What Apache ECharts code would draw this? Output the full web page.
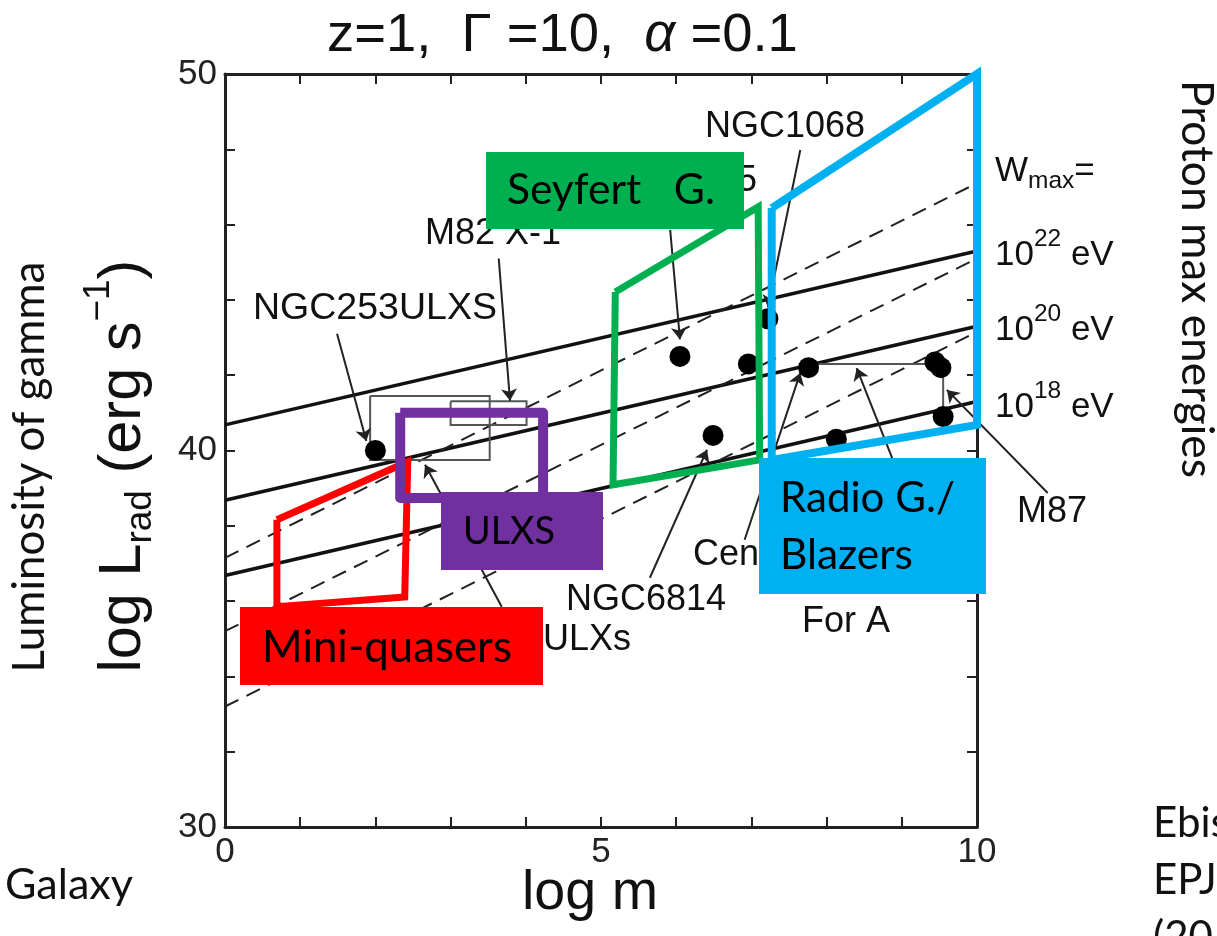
<!DOCTYPE html>
<html>
<head>
<meta charset="utf-8">
<script src="https://cdn.jsdelivr.net/npm/echarts@6/dist/echarts.min.js"></script>
<style>
html, body { margin: 0; background: #fff; }
#main { width: 1217px; height: 936px; }
</style>
</head>
<body>
<div id="main"></div>
<script>
// axes
var xRange = [0, 10];
var yRange = [30, 50];

// W_max lines: log L at log m = 0 and log m = 10
var lineEnds = [0, 10];
var solid22 = [40.68, 45.30];
var solid20 = [38.68, 43.30];
var solid18 = [36.68, 41.30];
var dashA = [37.15, 47.10];
var dashB = [35.20, 45.10];
var dashC = [33.20, 43.15];

// sources (filled dots)
var srcLogM = [2.00, 6.05, 6.96, 7.22, 7.76, 9.44, 9.52, 9.55, 8.13, 6.49];
var srcLogL = [40.00, 42.50, 42.30, 43.50, 42.20, 42.35, 42.20, 40.90, 40.30, 40.40];

// thin boxes: [m0, m1, L0, L1]
var ngc253Box = [1.93, 3.52, 39.75, 41.45];
var m82Box = [3.00, 4.01, 40.68, 41.31];
// bracket joining M87 points
var bracketM = [7.76, 9.55, 9.55];
var bracketL = [42.30, 42.30, 40.90];

// arrows: from -> to
var arrowFromM = [1.49, 3.64, 7.65, 5.92, 5.65, 3.68, 6.91, 9.04, 10.94];
var arrowFromL = [43.10, 45.10, 47.98, 45.86, 36.62, 35.85, 37.63, 38.95, 38.87];
var arrowToM = [1.88, 3.79, 7.22, 6.05, 6.41, 2.66, 7.65, 8.40, 9.60];
var arrowToL = [40.25, 41.32, 43.80, 42.95, 40.02, 39.62, 42.06, 42.19, 41.61];

// coloured regions
var miniQM = [0.69, 2.43, 2.39, 0.69];
var miniQL = [38.16, 39.70, 36.11, 35.85];
var ulxsM = [2.33, 4.23, 4.23, 2.33];
var ulxsL = [41.00, 41.00, 38.74, 38.74];
var seyfertM = [5.19, 7.09, 7.11, 5.16];
var seyfertL = [44.21, 46.47, 39.75, 39.09];
var radioM = [7.27, 10.00, 10.00, 7.27];
var radioL = [46.44, 50.00, 40.68, 39.75];

var ARIAL = '"Liberation Sans", Arial, sans-serif';
var CAL = 'Lato, "Open Sans", sans-serif';

function pairs(ms, ls) { return ms.map(function (m, i) { return [m, ls[i]]; }); }
function closed(ms, ls) { var p = pairs(ms, ls); p.push(p[0]); return p; }
function boxPts(b) { return closed([b[0], b[1], b[1], b[0]], [b[3], b[3], b[2], b[2]]); }

function plain(data, color, width, type, z) {
    return {
        type: 'line', data: data, showSymbol: false, symbol: 'none', silent: true, clip: false, z: z || 2,
        lineStyle: { color: color, width: width, type: type || 'solid', join: 'miter', cap: 'butt' }
    };
}
function region(ms, ls, color, width, join) {
    var s = plain(closed(ms, ls), color, width, 'solid', 8);
    s.lineStyle.join = join || 'miter';
    return s;
}

var ctx = document.createElement('canvas').getContext('2d');
function measure(t, size, fam, it) {
    ctx.font = (it ? 'italic ' : '') + size + 'px ' + fam;
    return ctx.measureText(t).width;
}
// a row of text pieces (sub / superscripts), optionally fitted to a width and rotated
function textRow(parts, o) {
    var fam = o.fam || ARIAL, size = o.size, w = 0;
    parts.forEach(function (p) { w += measure(p.t, size * (p.s || 1), fam, p.it); });
    if (o.width) { size = size * o.width / w; w = o.width; }
    var x = o.align === 'center' ? -w / 2 : 0;
    var z = o.z || 50;
    var kids = parts.map(function (p) {
        var fs = size * (p.s || 1);
        var el = {
            type: 'text', x: x, y: (p.dy || 0) * size, z: z, silent: true,
            style: {
                text: p.t, fontSize: fs, fontFamily: fam, fontStyle: p.it ? 'italic' : 'normal',
                fill: o.color || '#111', textAlign: 'left', align: 'left',
                verticalAlign: 'middle', textVerticalAlign: 'middle'
            }
        };
        x += measure(p.t, fs, fam, p.it);
        return el;
    });
    return { type: 'group', x: o.x, y: o.y, rotation: o.rot || 0, z: z, children: kids };
}
function label(t, x, y, size, fam, width) {
    return textRow([{ t: t }], { x: x, y: y, size: size, fam: fam, width: width });
}
function box(x, y, w, h, color) {
    return { type: 'rect', z: 100, silent: true, shape: { x: x, y: y, width: w, height: h }, style: { fill: color } };
}

var tickStyle = { color: '#222', width: 2 };
function xAxis(pos, show) {
    return {
        type: 'value', min: xRange[0], max: xRange[1], interval: 5, position: pos,
        axisLine: { onZero: false, lineStyle: { color: '#222', width: 3 } },
        axisTick: { inside: true, length: 10, lineStyle: tickStyle },
        minorTick: { show: true, splitNumber: 5, length: 10, lineStyle: tickStyle },
        axisLabel: { show: show, fontSize: 35, color: '#222', fontFamily: ARIAL, margin: 8 },
        splitLine: { show: false }, minorSplitLine: { show: false }
    };
}
function yAxis(pos, show) {
    return {
        type: 'value', min: yRange[0], max: yRange[1], interval: 10, position: pos,
        axisLine: { onZero: false, lineStyle: { color: '#222', width: 3 } },
        axisTick: { inside: true, length: 10, lineStyle: tickStyle },
        minorTick: { show: true, splitNumber: 5, length: 10, lineStyle: tickStyle },
        axisLabel: { show: show, fontSize: 35, color: '#222', fontFamily: ARIAL, margin: 8 },
        splitLine: { show: false }, minorSplitLine: { show: false }
    };
}

var arrowData = arrowFromM.map(function (m, i) {
    return { coords: [[m, arrowFromL[i]], [arrowToM[i], arrowToL[i]]] };
});

var graphics = [
    // title
    textRow([{ t: 'z=1,  Γ =10,  ' }, { t: 'α', it: true }, { t: ' =0.1' }], { x: 327, y: 36, size: 54, width: 471 }),
    // axis names
    textRow([{ t: 'log L' }, { t: 'rad', s: 0.62, dy: 0.28 }, { t: ' (erg s' }, { t: '−1', s: 0.62, dy: -0.42 }, { t: ')' }],
        { x: 124, y: 466, size: 50, width: 413, align: 'center', rot: Math.PI / 2 }),
    textRow([{ t: 'log m' }], { x: 590, y: 894, size: 54, width: 136, align: 'center' }),
    textRow([{ t: 'Luminosity of gamma' }], { x: 30, y: 467, size: 40, fam: CAL, width: 411, align: 'center', rot: Math.PI / 2 }),
    textRow([{ t: 'Proton max energies' }], { x: 1196, y: 279, size: 40, fam: CAL, width: 398, align: 'center', rot: -Math.PI / 2 }),
    label('Galaxy', 5, 885, 40, CAL, 128),
    label('Ebis', 1153, 823, 42, CAL),
    label('EPJ', 1153, 880, 42, CAL),
    label('(20', 1153, 937, 42, CAL),
    // source names
    label('NGC253ULXS', 253, 309, 36, ARIAL, 244),
    label('M82 X-1', 425, 234, 36),
    label('NGC1068', 705, 127, 36),
    label('5', 737, 181, 36),
    label('NGC6814', 566, 600, 36),
    label('ULXs', 543, 640, 36),
    label('Cen', 693, 555, 36),
    label('For A', 802, 622, 36),
    label('M87', 1017, 512, 36),
    // W_max legend
    textRow([{ t: 'W' }, { t: 'max', s: 0.7, dy: 0.3 }, { t: '=' }], { x: 995, y: 171, size: 35 }),
    textRow([{ t: '10' }, { t: '22', s: 0.7, dy: -0.45 }, { t: ' eV' }], { x: 995, y: 255, size: 35 }),
    textRow([{ t: '10' }, { t: '20', s: 0.7, dy: -0.45 }, { t: ' eV' }], { x: 995, y: 330, size: 35 }),
    textRow([{ t: '10' }, { t: '18', s: 0.7, dy: -0.45 }, { t: ' eV' }], { x: 995, y: 407, size: 35 }),
    // coloured tags
    box(486, 152, 258, 77, '#00B050'),
    box(240, 607, 303, 78, '#FF0000'),
    box(441, 492, 162, 78, '#7030A0'),
    box(759, 458, 227, 136, '#00B0F0'),
    textRow([{ t: 'Seyfert   G.' }], { x: 507, y: 190, size: 40, fam: CAL, width: 208, z: 110, color: '#000' }),
    textRow([{ t: 'Mini-quasers' }], { x: 262, y: 648, size: 40, fam: CAL, width: 250, z: 110, color: '#000' }),
    textRow([{ t: 'ULXS' }], { x: 463, y: 532, size: 40, fam: CAL, width: 92, z: 110, color: '#000' }),
    textRow([{ t: 'Radio G./' }], { x: 780, y: 498, size: 40, fam: CAL, width: 175, z: 110, color: '#000' }),
    textRow([{ t: 'Blazers' }], { x: 780, y: 555, size: 40, fam: CAL, width: 133, z: 110, color: '#000' })
];

var option = {
    backgroundColor: '#fff',
    animation: false,
    grid: { left: 225, top: 74, right: 240, bottom: 109, containLabel: false },
    xAxis: [xAxis('bottom', true), xAxis('top', false)],
    yAxis: [yAxis('left', true), yAxis('right', false)],
    series: [
        plain(pairs(lineEnds, solid22), '#111', 3.5),
        plain(pairs(lineEnds, solid20), '#111', 3.5),
        plain(pairs(lineEnds, solid18), '#111', 3.5),
        plain(pairs(lineEnds, dashA), '#222', 2, [15, 9]),
        plain(pairs(lineEnds, dashB), '#222', 2, [15, 9]),
        plain(pairs(lineEnds, dashC), '#222', 2, [15, 9]),
        plain(boxPts(ngc253Box), '#555', 2),
        plain(boxPts(m82Box), '#555', 2),
        plain(pairs(bracketM, bracketL), '#555', 2),
        {
            type: 'lines', coordinateSystem: 'cartesian2d', silent: true, clip: false, z: 3,
            symbol: ['none', 'arrow'], symbolSize: 12,
            lineStyle: { color: '#222', width: 2, opacity: 1, curveness: 0 },
            data: arrowData
        },
        {
            type: 'scatter', data: pairs(srcLogM, srcLogL), symbol: 'circle', symbolSize: 21,
            silent: true, z: 4, itemStyle: { color: '#000', opacity: 1 }
        },
        region(miniQM, miniQL, '#FF0000', 7),
        region(ulxsM, ulxsL, '#7030A0', 10, 'round'),
        region(seyfertM, seyfertL, '#00B050', 7),
        region(radioM, radioL, '#00B0F0', 8)
    ],
    graphic: graphics
};

var chart = echarts.init(document.getElementById('main'));
chart.setOption(option);
</script>
</body>
</html>
